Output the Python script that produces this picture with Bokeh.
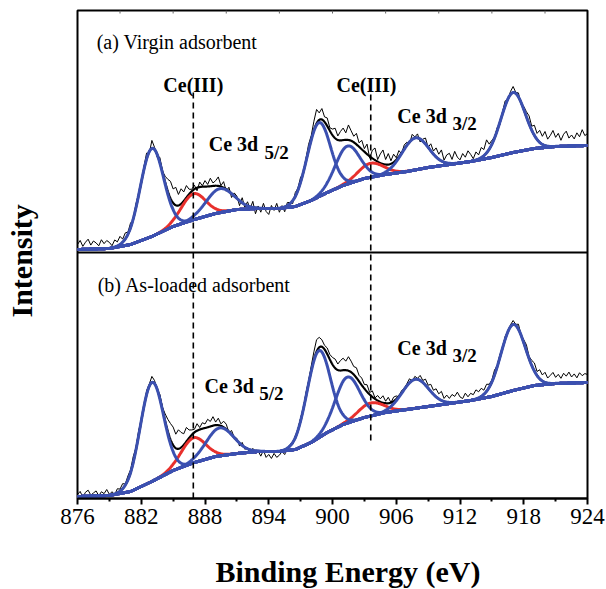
import numpy as np
from bokeh.plotting import figure
from bokeh.models import FixedTicker, LinearAxis, Label, Span, Range1d, Title
from bokeh.embed import file_html
from bokeh.resources import INLINE

# ---------------- data ----------------
x_ticks = [876, 882, 888, 894, 900, 906, 912, 918, 924]
x_minor = [879, 885, 891, 897, 903, 909, 915, 921]
top_ticks = [880, 885, 890, 895, 900, 905, 910, 915, 920]

# spectra sampled every 0.25 eV from 876 to 924 eV
e_start, e_stop, e_step = 876.0, 924.0, 0.25

# Shirley-type background
bg_energy = [876, 879, 881, 883, 885, 887, 889, 891, 893, 895, 896.5, 898,
             899.5, 901, 903, 905, 907, 909, 911, 913, 915, 917, 919, 921, 924]
bg_a = [3, 4, 8, 16, 26, 33, 39, 43, 44, 44, 46, 52,
        60, 67, 74, 78, 81, 85, 88, 91, 95, 100, 104, 106, 107]
bg_b = [2, 3, 7, 17, 28, 36, 42, 45, 47, 47, 49, 56,
        66, 74, 81, 86, 89, 92, 95, 98, 102, 108, 113, 115, 116]

# (a) Virgin adsorbent : fitted components (centre eV, height, width eV)
blue_center_a = [883.0, 889.4, 898.7, 901.4, 907.8, 917.0]
blue_height_a = [88, 24, 74, 38, 32, 60]
blue_width_a = [1.1, 1.3, 1.1, 1.15, 1.25, 1.15]
red_center_a = [886.9, 903.6]
red_height_a = [26, 14]
red_width_a = [1.15, 1.2]

# (b) As-loaded adsorbent
blue_center_b = [883.0, 889.4, 898.7, 901.4, 907.8, 917.0]
blue_height_b = [99, 28, 87, 46, 29, 66]
blue_width_b = [1.1, 1.3, 1.1, 1.15, 1.25, 1.15]
red_center_b = [886.9, 903.6]
red_height_b = [25, 13]
red_width_b = [1.15, 1.2]

# measured counts minus fitted envelope (one row per eV, 4 samples each)
resid_a = [
    5, 9, 3, 7,   10, 4, 8, 6,   3, 9, 5, 8,   6, 2, 7, 4,
    8, 3, 6, 2,   5, -2, 4, 1,   -3, 3, 6, -2, 8, 2, -3, 5,
    1, 6, 12, 17, 14, 18, 11, 15, 9, 12, 5, 2, 4, -3, 5, 1,
    6, 2, 8, 3,   5, 9, 1, 6,    -2, 4, -4, 3, 2, -5, 5, -3,
    4, -2, 6, -6, 2, -4, 5, -3,  -6, 3, -2, 5, -4, 2, -5, 3,
    1, -3, 4, 2,  5, -2, 3, 6,   4, 9, 14, 7, 11, 5, 8, 3,
    6, 10, 4, 9,  12, 7, 15, 10, 6, 11, 4, 9, 3, 10, -2, 8,
    12, 2, 9, 14, 5, 11, 3, 8,   2, 6, -1, 4, 3, -2, 5, 1,
    4, -3, 2, 6,  0, 7, 3, 9,    5, 11, 2, 8, 10, 4, 12, 6,
    3, 9, 5, 11,  7, 2, 8, 4,    10, 6, 13, 5, 4, 1, 3, -2,
    2, 5, -1, 3,  6, 1, 4, -2,   3, 5, 8, 4,  10, 6, 12, 8,
    14, 7, 11, 16, 9, 13, 6, 12, 15, 8, 11, 7, 13, 9, 16, 10,
    12]
resid_b = [
    2, 5, -1, 4,  6, 1, 3, 5,    0, 4, 2, 6,   1, 3, -1, 4,
    2, 5, 1, 4,   3, 6, 2, 5,    1, -2, 4, 2,  6, 3, -1, 4,
    2, 7, 12, 16, 18, 14, 19, 15, 11, 14, 8, 5, 3, 7, 2, 6,
    4, 8, 5, 9,   3, 7, 2, 6,    5, -1, 4, 0,  2, -3, 3, -2,
    1, -4, 2, -3, 0, -5, 1, -6,  -3, -7, -2, -6, -4, -1, -5, 0,
    1, -2, 2, 0,  3, 0, 4, 2,    5, 8, 12, 10, 7, 4, 6, 5,
    7, 9, 6, 10,  12, 9, 14, 11, 8, 10, 6, 7,  4, 7, 2, 6,
    1, 5, 3, 7,   2, 6, 0, 4,    3, -1, 2, 0,  2, 4, -1, 3,
    1, 5, 2, 6,   3, 7, 4, 8,    5, 9, 3, 7,   4, 8, 6, 10,
    5, 3, 8, 4,   7, 5, 9, 6,    8, 4, 7, 3,   2, 5, 1, 3,
    -1, 3, 0, 2,  4, 1, 5, 0,    3, 6, 2, 5,   8, 4, 9, 6,
    10, 5, 8, 11, 6, 9, 5, 10,   7, 11, 6, 9,  5, 10, 7, 9,
    8]

ce3_positions = [886.9, 903.6]

# ---------------- layout constants ----------------
TOP_OFFSET = 246          # vertical offset of panel (a)
Y_MAX = 488
BLUE = "#3b50b0"
RED = "#e8302c"
SERIF = "Liberation Serif"

x_raw = np.arange(e_start, e_stop + e_step / 2, e_step)
x_fine = np.arange(e_start, e_stop + 0.001, 0.05)
assert len(resid_a) == len(x_raw) and len(resid_b) == len(x_raw)


def gauss(x, c, h, w):
    return h * np.exp(-(x - c) ** 2 / (2.0 * w ** 2))


p = figure(width=606, height=589, x_range=Range1d(876, 924), y_range=Range1d(0, Y_MAX),
           output_backend="svg", toolbar_location=None,
           min_border_left=77, min_border_right=19, min_border_top=10, min_border_bottom=91,
           x_axis_location=None, y_axis_location=None)
p.grid.visible = False
p.outline_line_color = "black"
p.outline_line_width = 2
p.background_fill_color = "white"
p.border_fill_color = "white"


def draw_panel(offset, bg_vals, bc, bh, bw, rc, rh, rw, resid):
    bg_f = np.interp(x_fine, bg_energy, bg_vals)
    bg_r = np.interp(x_raw, bg_energy, bg_vals)
    env_f = bg_f.copy()
    env_r = bg_r.copy()
    for c, h, w in zip(bc + rc, bh + rh, bw + rw):
        env_f += gauss(x_fine, c, h, w)
        env_r += gauss(x_raw, c, h, w)
    raw = env_r + np.array(resid, dtype=float)
    p.line(x_raw, raw + offset, line_color="black", line_width=1)
    p.line(x_fine, env_f + offset, line_color="black", line_width=2.2)
    for c, h, w in zip(rc, rh, rw):
        p.line(x_fine, bg_f + gauss(x_fine, c, h, w) + offset, line_color=RED, line_width=3)
    p.line(x_fine, bg_f + offset, line_color=BLUE, line_width=3)
    for c, h, w in zip(bc, bh, bw):
        p.line(x_fine, bg_f + gauss(x_fine, c, h, w) + offset, line_color=BLUE, line_width=3)


draw_panel(TOP_OFFSET, bg_a, blue_center_a, blue_height_a, blue_width_a,
           red_center_a, red_height_a, red_width_a, resid_a)
draw_panel(0, bg_b, blue_center_b, blue_height_b, blue_width_b,
           red_center_b, red_height_b, red_width_b, resid_b)

# divider between the two panels
p.add_layout(Span(location=TOP_OFFSET, dimension="width", line_color="black", line_width=2))

# small inward ticks on the top edge
p.segment(x0=top_ticks, y0=[Y_MAX] * len(top_ticks), x1=top_ticks,
          y1=[Y_MAX - 3] * len(top_ticks), line_color="#666666", line_width=1)

# Ce(III) dashed markers
p.segment(x0=ce3_positions, y0=[0, 58], x1=ce3_positions, y1=[406, 406],
          line_color="black", line_width=1.6, line_dash="6 4")

# bottom axis
xax = LinearAxis(ticker=FixedTicker(ticks=x_ticks, minor_ticks=x_minor),
                 axis_line_width=2, axis_line_color="black",
                 major_tick_out=6, major_tick_in=0, major_tick_line_width=2,
                 minor_tick_out=3, minor_tick_in=0, minor_tick_line_width=2,
                 major_label_standoff=4, major_label_text_font=SERIF,
                 major_label_text_font_size="23px", major_label_text_color="black")
p.add_layout(xax, "below")

# axis titles; padding order is (left, right, top, bottom)
p.add_layout(Title(text="Binding Energy (eV)", align="left", offset=138,
                   vertical_align="top", padding=(0, 0, 28, 0),
                   text_font=SERIF, text_font_style="bold", text_font_size="30px",
                   text_color="black", standoff=0), "below")
p.add_layout(Title(text="Intensity", align="left", offset=181,
                   vertical_align="bottom", padding=(0, 0, 0, 40),
                   text_font=SERIF, text_font_style="bold", text_font_size="30px",
                   text_color="black", standoff=0), "left")


def add_text(x, y, text, size="20px", style="bold", align="left"):
    p.add_layout(Label(x=x, y=y, text=text, text_font=SERIF, text_font_size=size,
                       text_font_style=style, text_baseline="alphabetic",
                       text_align=align, text_color="black"))


add_text(877.8, 457, "(a) Virgin adsorbent", style="normal")
add_text(877.9, 214, "(b) As-loaded adsorbent", style="normal")
add_text(886.9, 414, "Ce(III)", align="center")
add_text(903.2, 414, "Ce(III)", align="center")
add_text(888.35, 355, "Ce 3d")
add_text(893.6, 346, "5/2", size="19px")
add_text(906.1, 383, "Ce 3d")
add_text(911.3, 375, "3/2", size="19px")
add_text(887.95, 113, "Ce 3d")
add_text(893.1, 105, "5/2", size="19px")
add_text(906.1, 151, "Ce 3d")
add_text(911.3, 143, "3/2", size="19px")

open("out.html", "w").write(file_html(p, INLINE))
